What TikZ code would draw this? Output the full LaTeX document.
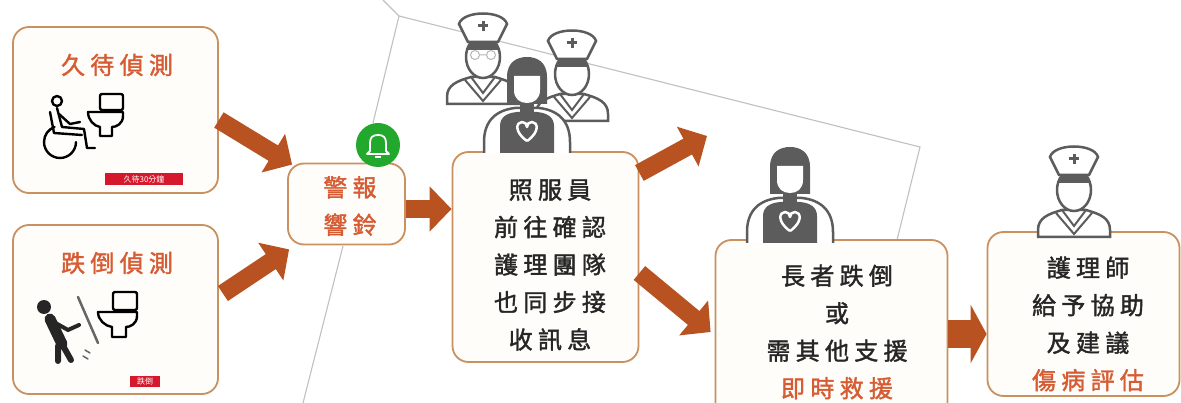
\documentclass[tikz,border=0pt]{standalone}
\usepackage{fontspec}
\newfontfamily\cjk[LetterSpace=22, FakeBold=1.6]{Noto Sans CJK TC}
\newfontfamily\cjkn{Noto Sans CJK TC}
\usetikzlibrary{arrows.meta,calc}
\definecolor{boxline}{RGB}{200,145,95}
\definecolor{boxfill}{RGB}{255,253,249}
\definecolor{flowc}{RGB}{184,82,32}
\definecolor{redtxt}{RGB}{214,92,52}
\definecolor{icon}{RGB}{92,92,92}
\definecolor{thin}{RGB}{192,192,192}
\definecolor{bellg}{RGB}{34,168,44}
\definecolor{tagred}{RGB}{214,24,44}

\tikzset{
  box/.style={draw=boxline, line width=1.8pt, rounded corners=16pt, fill=boxfill, inner sep=0pt},
  txt/.style={align=center, inner sep=0pt, text=black!85, font=\cjk\fontsize{24}{37.5}\selectfont},
  title/.style={txt, text=redtxt},
  flow/.style={draw=flowc, line width=18pt, -{Triangle[length=22pt,width=44pt]}},
  flowbig/.style={draw=flowc, line width=28pt, -{Triangle[length=16pt,width=58pt]}},
  guide/.style={draw=thin, line width=1.1pt},
  tag/.style={fill=tagred, text=white, inner sep=1pt, font=\cjkn\fontsize{8}{8}\selectfont},
  % nurse with cap, head centre at the origin
  nurse/.pic={
    \draw[icon, line width=2.5pt, fill=white]
      (-36,47) -- (-36,40) .. controls (-36,28) and (-26,24) .. (-12,20) -- (12,20)
      .. controls (26,24) and (36,28) .. (36,40) -- (36,47) -- cycle;
    \draw[icon, line width=2pt] (-12,20) -- (0,36) -- (12,20);
    \draw[icon, line width=2pt] (-18,23) -- (0,44) -- (18,23);
    \draw[icon, line width=2.5pt, fill=white] (0,0) ellipse[x radius=17, y radius=21];
    \begin{scope}
      \clip (0,0) ellipse[x radius=17, y radius=21];
      \fill[icon] (-20,-25) rectangle (20,-7);
    \end{scope}
    \draw[icon, line width=2.5pt, fill=white]
      (-15,-15) -- (-24,-33) .. controls (-20,-47) and (20,-47) .. (24,-33) -- (15,-15) -- cycle;
    \draw[icon, line width=3pt] (-5,-31) -- (5,-31) (0,-36) -- (0,-26);
  },
  % caregiver in apron, head centre at the origin
  carer/.pic={
    \draw[icon, line width=2.5pt, fill=white]
      (-43,71) -- (-43,60) .. controls (-43,38) and (-30,28) .. (-12,26) -- (12,26)
      .. controls (30,28) and (43,38) .. (43,60) -- (43,71);
    \fill[icon] (-27,71) -- (-27,44) .. controls (-27,35) and (-20,31) .. (-10,30) -- (10,30)
      .. controls (20,31) and (27,35) .. (27,44) -- (27,71) -- cycle;
    \fill[icon] (-7,18) rectangle (7,30);
    \fill[icon] (-20,22) -- (-20,-5) .. controls (-20,-20) and (-10,-25) .. (0,-25)
      .. controls (10,-25) and (20,-20) .. (20,-5) -- (20,22) -- cycle;
    \fill[white] (-13,-6) -- (13,-6) -- (13,8) .. controls (13,17) and (7,21) .. (0,21)
      .. controls (-7,21) and (-13,17) .. (-13,8) -- cycle;
    \draw[white, line width=2.5pt, line join=round]
      (0,59) .. controls (-13,50) and (-11,40) .. (-5,40) .. controls (-2,40) and (0,42) .. (0,45)
      .. controls (0,42) and (2,40) .. (5,40) .. controls (11,40) and (13,50) .. (0,59);
  }
}

\begin{document}
\begin{tikzpicture}[x=1pt,y=-1pt]
\path[use as bounding box, clip] (0,0) rectangle (1181,403);

% thin grey guide lines
\coordinate (g0) at (383,0);
\coordinate (g1) at (399,16);
\coordinate (g2) at (920,147);
\coordinate (g3) at (897,240);
\coordinate (g4) at (373,123);
\coordinate (g5) at (343,246);
\coordinate (g6) at (303,403);
\draw[guide] (g0) -- (g1) -- (g2) -- (g3);
\draw[guide] (g1) -- (g4);
\draw[guide] (g5) -- (g6);

% boxes
\node[box, minimum width=205pt, minimum height=166pt] (b1) at (115.5,110) {};
\node[box, minimum width=205pt, minimum height=169pt] (b2) at (115.5,309.5) {};
\node[box, minimum width=117pt, minimum height=81pt] (alarm) at (346.5,204) {};
\node[box, minimum width=186pt, minimum height=210pt] (care) at (545.5,257) {};
\node[box, minimum width=232pt, minimum height=190pt] (elder) at (831.5,335) {};
\node[box, minimum width=192pt, minimum height=164pt] (rn) at (1083.5,314) {};

% people above the boxes
\pic at (572,74) {nurse};
\pic at (483,57) {nurse};
\draw[icon!45, line width=1pt] (475,55) circle (4.5) (491,55) circle (4.5) (479.5,55) -- (486.5,55);
\pic at (527,82) {carer};
\pic at (790,172) {carer};
\pic at (1074,190) {nurse};

% alarm bell
\node[circle, fill=bellg, minimum size=44pt, inner sep=0pt] (bell) at (378,145) {};
\draw[white, line width=1.8pt, line join=round]
  (370,151) -- (370,143) .. controls (370,137) and (373,135) .. (378,135)
  .. controls (383,135) and (386,137) .. (386,143) -- (386,151) -- (389,154) -- (367,154) -- cycle;
\draw[white, line width=1.8pt] (375,157) -- (381,157);

% titles and texts
\node[title] (t1) at (117,65) {久待偵測};
\node[title] (t2) at (117,263) {跌倒偵測};
\node[title] (t3) at (350,206) {警報\\響鈴};
\node[txt] (t4) at (550,265) {照服員\\前往確認\\護理團隊\\也同步接\\收訊息};
\node[txt] (t5) at (837,332) {長者跌倒\\或\\需其他支援\\\textcolor{redtxt}{即時救援}};
\node[txt] (t6) at (1088,324) {護理師\\給予協助\\及建議\\\textcolor{redtxt}{傷病評估}};

% wheelchair user and toilet
\begin{scope}[black, line width=2.4pt, line cap=round, line join=round]
  \draw (57,101) circle (5);
  \draw (57,108) -- (62,127) -- (84,129) -- (87,148) -- (95,148);
  \draw (59,114) -- (70,124) -- (80,122);
  \draw (50,112) -- (54,133) -- (82,135);
  \draw (76,142) arc[start angle=0, end angle=250, radius=16];
  \draw[rounded corners=2pt] (100,94) rectangle (123,110);
  \draw (88,112) -- (123,112) -- (123,116) .. controls (123,124) and (116,127) .. (112,127)
    -- (112,136) -- (100,136) -- (100,127) .. controls (94,126) and (88,120) .. (88,112) -- cycle;
\end{scope}
\node[tag, minimum width=78pt, minimum height=12pt] (tag1) at (144,179) {久待30分鐘};

% falling resident and toilet
\begin{scope}[black, line cap=round, line join=round]
  \fill[black!85] (44,307) circle (7);
  \draw[black!85, line width=11pt] (50,319) -- (62,344);
  \draw[black!85, line width=6pt] (62,344) -- (71,360) (58,346) -- (58,361);
  \draw[black!85, line width=4pt] (52,321) -- (68,330) -- (79,325);
  \draw[black!60, line width=2.5pt] (78,297) -- (98,343);
  \draw[black!60, line width=1.5pt] (85,350) -- (90,353) (83,356) -- (88,359);
  \draw[line width=2.4pt, rounded corners=2pt] (113,292) rectangle (137,310);
  \draw[line width=2.4pt] (98,312) -- (137,312) -- (137,316) .. controls (137,324) and (130,327) .. (126,327)
    -- (126,337) -- (112,337) -- (112,327) .. controls (105,326) and (98,320) .. (98,312) -- cycle;
\end{scope}
\node[tag, minimum width=30pt, minimum height=11pt] (tag2) at (145,381) {跌倒};

% flow arrows
\coordinate (up) at (707,136);
\draw[flow] ([yshift=-10pt]b1.east) -- ([xshift=5pt,yshift=-2pt]alarm.north west);
\draw[flow] ([xshift=4pt,yshift=16pt]b2.east) -- ([xshift=2pt,yshift=-4pt]alarm.south west);
\draw[flow] ([yshift=-5pt]alarm.east) -- ([yshift=-5pt]alarm.east -| care.west);
\draw[flow] ([yshift=84pt]care.east) -- (up);
\draw[flow] ([yshift=-16pt]care.east) -- ([xshift=-4pt,yshift=3pt]elder.west);
\draw[flowbig] ($(elder.east)+(0,-1)$) -- ($(elder.east -| rn.west)+(0,-1)$);
\end{tikzpicture}
\end{document}
